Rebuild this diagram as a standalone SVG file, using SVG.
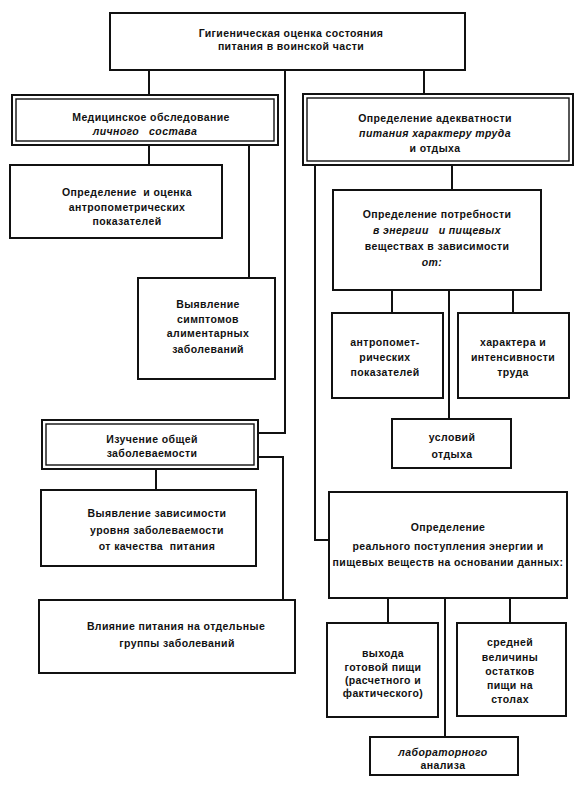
<svg xmlns="http://www.w3.org/2000/svg" width="578" height="788" viewBox="0 0 578 788">
<style>
.b{fill:#fff;stroke:#111;stroke-width:2}
.in{fill:none;stroke:#111;stroke-width:1.4}
.c{fill:none;stroke:#111;stroke-width:2}
text{font-family:"Liberation Sans",Arial,sans-serif;font-size:10.5px;letter-spacing:0.4px;font-weight:bold;fill:#111;text-anchor:middle}
.i{font-style:italic}
</style>
<rect width="578" height="788" fill="#fff"/>
<g id="connectors">
<path class="c" d="M149 70V95M424 70V94M285 70V433H258"/>
<path class="c" d="M149 145V165M249 145V278"/>
<path class="c" d="M452 165V190M315 165V540H329"/>
<path class="c" d="M392 290V313M449 290V419M513 290V313"/>
<path class="c" d="M156 469V490M258 457H283V600"/>
<path class="c" d="M388 598V623M445 598V737M510 598V623"/>
</g>
<g id="n-top"><rect class="b" x="110" y="13" width="355" height="57"/>
<text x="291" y="36.5">Гигиеническая оценка состояния</text><text x="291" y="49.5">питания в воинской части</text></g>
<g id="n-med"><rect class="b" x="12" y="95" width="266" height="50"/><rect class="in" x="16" y="99" width="258" height="42"/>
<text x="151" y="120.5">Медицинское обследование</text><text x="145" y="134.5" class="i" xml:space="preserve">личного   состава</text></g>
<g id="n-adeq"><rect class="b" x="303" y="94" width="270" height="71"/><rect class="in" x="307" y="98" width="262" height="63"/>
<text x="435" y="121.5">Определение адекватности</text><text x="435" y="136.5" class="i">питания характеру труда</text><text x="435" y="151.5">и отдыха</text></g>
<g id="n-anthro"><rect class="b" x="10" y="165" width="212" height="73"/>
<text x="127" y="195.5" xml:space="preserve">Определение  и оценка</text><text x="127" y="210.5">антропометрических</text><text x="127" y="224.5">показателей</text></g>
<g id="n-sympt"><rect class="b" x="138" y="278" width="137" height="101"/>
<text x="208" y="307.5">Выявление</text><text x="208" y="322.5">симптомов</text><text x="208" y="336.5">алиментарных</text><text x="208" y="352.5">заболеваний</text></g>
<g id="n-izuch"><rect class="b" x="42" y="420" width="216" height="49"/><rect class="in" x="46" y="424" width="208" height="41"/>
<text x="152" y="442.5">Изучение общей</text><text x="152" y="456.5">заболеваемости</text></g>
<g id="n-vyyav"><rect class="b" x="41" y="490" width="215" height="76"/>
<text x="157" y="516.5">Выявление зависимости</text><text x="157" y="533.5">уровня заболеваемости</text><text x="157" y="549.5" xml:space="preserve">от качества  питания</text></g>
<g id="n-vliyan"><rect class="b" x="39" y="600" width="256" height="73"/>
<text x="176" y="629.5">Влияние питания на отдельные</text><text x="177" y="646.5">группы заболеваний</text></g>
<g id="n-potreb"><rect class="b" x="333" y="190" width="208" height="100"/>
<text x="437" y="217.5">Определение потребности</text><text x="437" y="233.5" class="i" xml:space="preserve">в энергии   и пищевых</text><text x="437" y="249.5">веществах в зависимости</text><text x="432" y="265.5" class="i">от:</text></g>
<g id="n-antrop"><rect class="b" x="332" y="313" width="111" height="85"/>
<text x="385" y="345.5">антропомет-</text><text x="385" y="360.5">рических</text><text x="385" y="375.5">показателей</text></g>
<g id="n-harakt"><rect class="b" x="458" y="313" width="111" height="85"/>
<text x="513" y="345.5">характера и</text><text x="513" y="360.5">интенсивности</text><text x="513" y="375.5">труда</text></g>
<g id="n-uslov"><rect class="b" x="392" y="419" width="119" height="49"/>
<text x="452" y="440.5">условий</text><text x="452" y="457.5">отдыха</text></g>
<g id="n-real"><rect class="b" x="329" y="492" width="238" height="106"/>
<text x="448" y="530.5">Определение</text><text x="448" y="549.5">реального поступления энергии и</text><text x="448" y="565.5">пищевых веществ на основании данных:</text></g>
<g id="n-vyhod"><rect class="b" x="327" y="623" width="111" height="94"/>
<text x="383" y="656.5">выхода</text><text x="383" y="670.5">готовой пищи</text><text x="383" y="683.5">(расчетного и</text><text x="383" y="696.5">фактического)</text></g>
<g id="n-sred"><rect class="b" x="457" y="623" width="109" height="93"/>
<text x="510" y="645.5">средней</text><text x="510" y="660.5">величины</text><text x="510" y="674.5">остатков</text><text x="510" y="688.5">пищи на</text><text x="510" y="702.5">столах</text></g>
<g id="n-labor"><rect class="b" x="370" y="737" width="148" height="38"/>
<text x="443" y="755.5" class="i">лабораторного</text><text x="443" y="768.5">анализа</text></g>
</svg>
